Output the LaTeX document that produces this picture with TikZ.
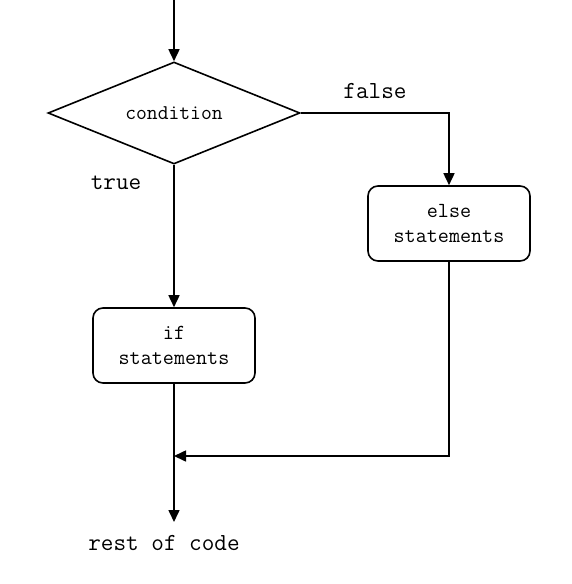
\documentclass[tikz,border=0pt]{standalone}
\usetikzlibrary{shapes.geometric,arrows.meta,positioning}
\tikzset{
  >={Triangle[length=12pt,width=11pt]},
  flow/.style={->,line width=1.6pt},
  cond/.style={draw,diamond,aspect=2.5,line width=1.6pt,minimum width=252pt,minimum height=102pt,inner sep=0pt,font=\ttfamily\fontsize{21}{25}\selectfont},
  stmt/.style={draw,rounded corners=10pt,line width=1.6pt,minimum width=162pt,minimum height=75pt,align=center,font=\ttfamily\fontsize{21.5}{25}\selectfont},
  lbl/.style={font=\ttfamily\fontsize{24.5}{28}\selectfont}
}
\begin{document}
\begin{tikzpicture}[x=1pt,y=-1pt]
\useasboundingbox (0,0) rectangle (572,584);
\coordinate (start) at (174,0);
\node[cond] (c) at (174,113) {condition};
\node[stmt] (els) at (449,223.5) {else\\statements};
\node[stmt] (ifs) at (174,345.5) {if\\statements};
\coordinate (join) at (174,456);
\coordinate (end) at (174,522);
\node[lbl] (rest) at (164,543) {rest of code};
\node[lbl] (f) at (375,91) {false};
\node[lbl] (t) at (116,183) {true};
\draw[flow] (start) -- (c.north);
\draw[flow] (c.east) -| (els.north);
\draw[flow] (c.south) -- (ifs.north);
\draw[flow] (ifs.south) -- (end);
\draw[flow] (els.south) |- (join);
\end{tikzpicture}
\end{document}
